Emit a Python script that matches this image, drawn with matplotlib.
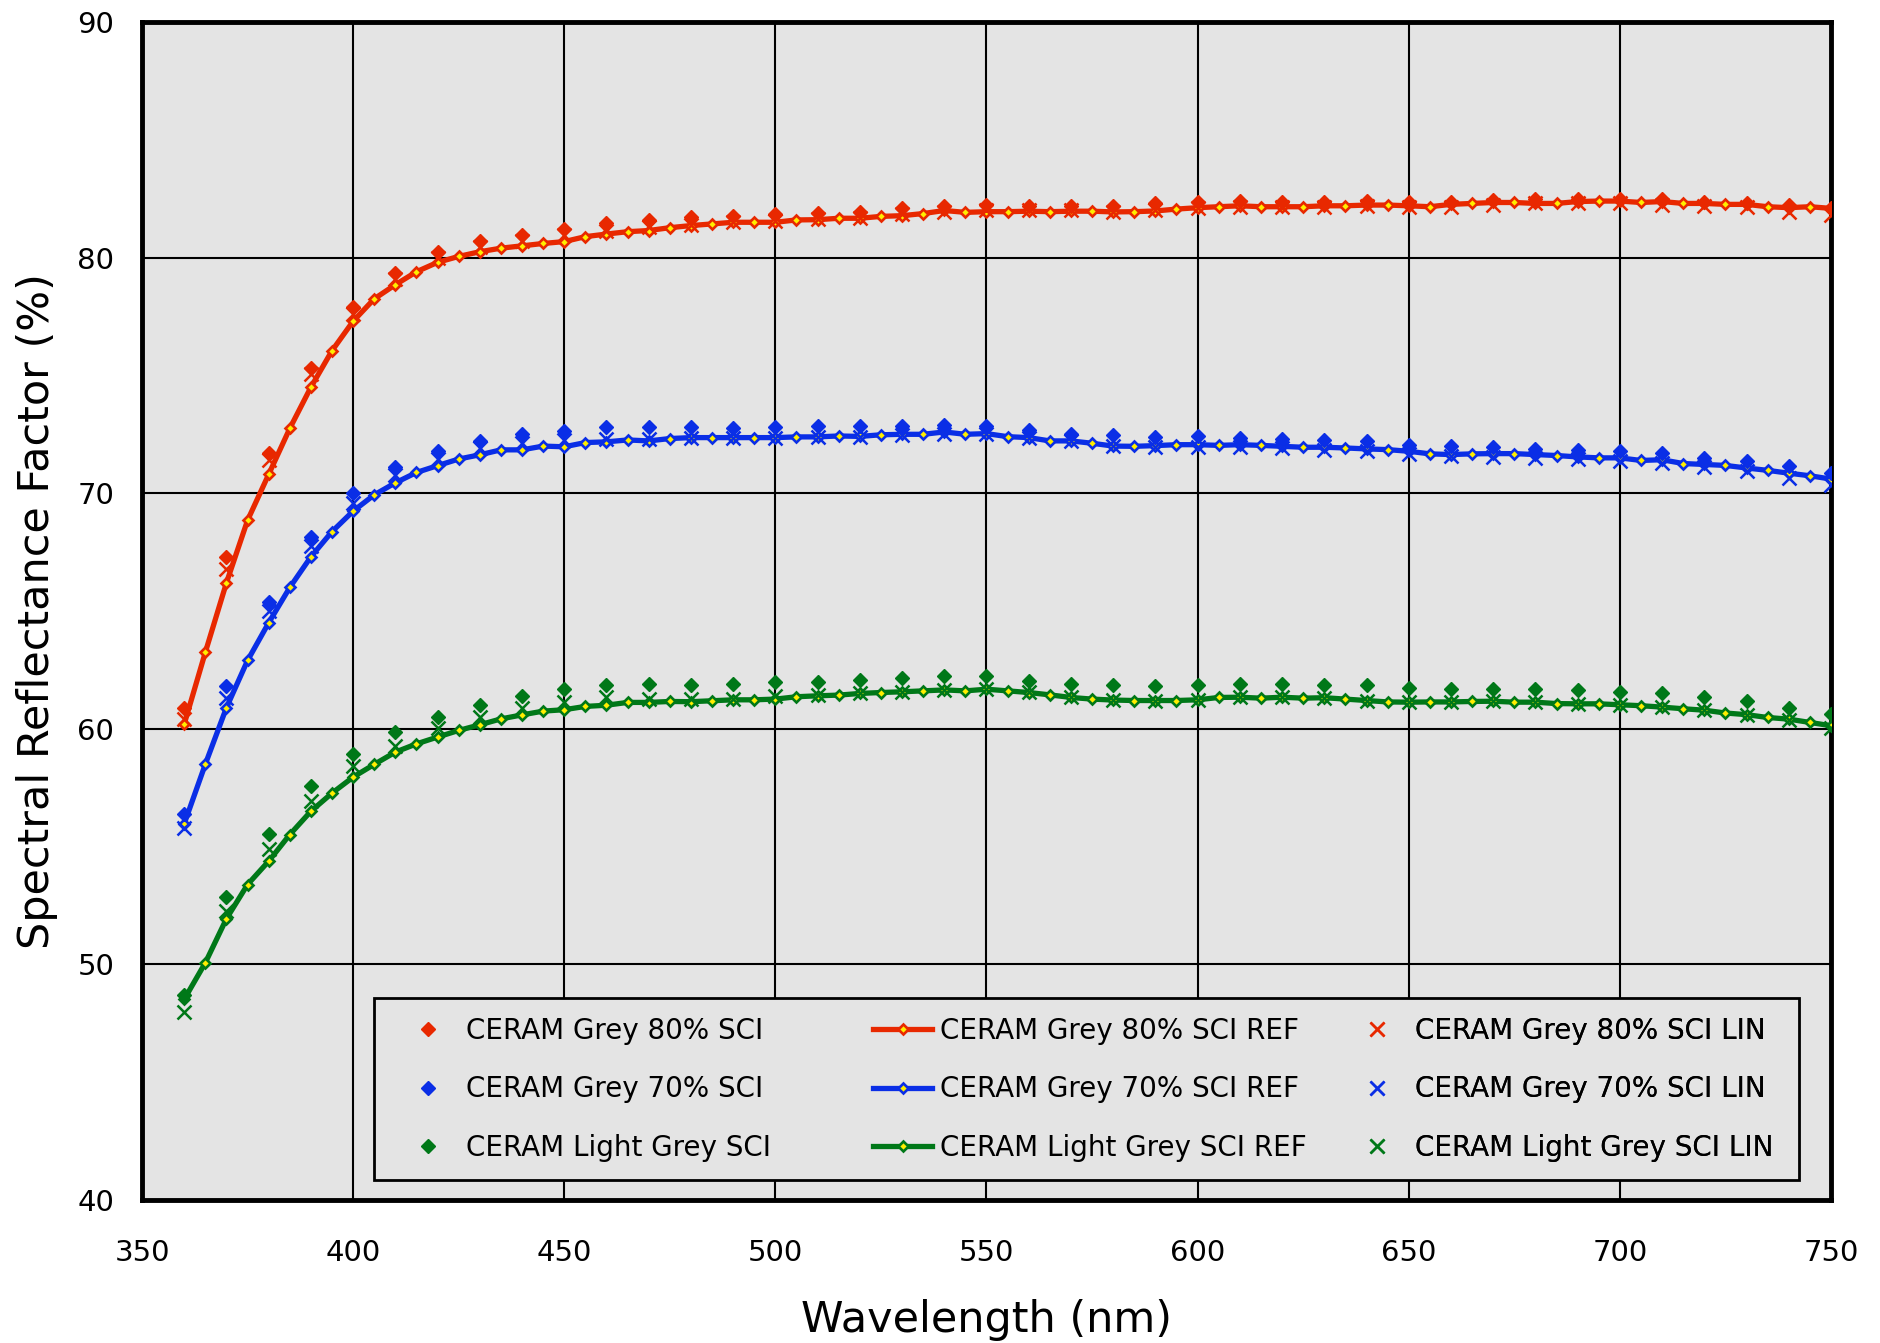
import numpy as np
import matplotlib
matplotlib.use("Agg")
import matplotlib.pyplot as plt
from matplotlib.patches import Rectangle

# wavelengths (nm)
wl_ref = list(range(360, 751, 5))
wl_pts = list(range(360, 751, 10))

# REF curves, 5 nm steps
ref_80 = [60.2, 63.25, 66.2, 68.85, 70.8, 72.75, 74.5, 76.05, 77.3, 78.25,
          78.85, 79.4, 79.8, 80.05, 80.25, 80.4, 80.5, 80.6, 80.68, 80.89,
          81.0, 81.1, 81.15, 81.27, 81.36, 81.43, 81.5, 81.5, 81.5, 81.6,
          81.61, 81.67, 81.67, 81.75, 81.78, 81.87, 82.0, 81.92, 81.95, 81.95,
          81.97, 81.95, 81.97, 81.97, 81.94, 81.95, 81.98, 82.06, 82.12, 82.16,
          82.2, 82.16, 82.16, 82.16, 82.2, 82.2, 82.23, 82.23, 82.2, 82.16,
          82.26, 82.3, 82.34, 82.34, 82.3, 82.3, 82.38, 82.4, 82.4, 82.34,
          82.38, 82.3, 82.3, 82.26, 82.26, 82.16, 82.12, 82.16, 82.09]
ref_70 = [55.97, 58.5, 60.9, 62.9, 64.5, 66.0, 67.3, 68.37, 69.24, 69.93,
          70.44, 70.88, 71.17, 71.45, 71.63, 71.84, 71.84, 72.0, 71.97, 72.15,
          72.18, 72.26, 72.22, 72.32, 72.36, 72.36, 72.36, 72.36, 72.36, 72.39,
          72.39, 72.43, 72.41, 72.48, 72.5, 72.5, 72.6, 72.5, 72.53, 72.4,
          72.36, 72.22, 72.22, 72.12, 72.0, 71.99, 72.02, 72.06, 72.06, 72.03,
          72.06, 72.03, 71.99, 71.95, 71.95, 71.92, 71.88, 71.85, 71.78, 71.67,
          71.64, 71.67, 71.68, 71.68, 71.64, 71.6, 71.54, 71.5, 71.5, 71.39,
          71.42, 71.26, 71.22, 71.18, 71.07, 70.97, 70.85, 70.74, 70.6]
ref_lg = [48.52, 50.07, 51.94, 53.39, 54.38, 55.51, 56.5, 57.27, 57.95, 58.49,
          59.01, 59.36, 59.65, 59.93, 60.17, 60.42, 60.59, 60.75, 60.81, 60.95,
          61.0, 61.12, 61.12, 61.16, 61.15, 61.19, 61.23, 61.23, 61.26, 61.36,
          61.4, 61.43, 61.5, 61.54, 61.57, 61.61, 61.65, 61.61, 61.68, 61.61,
          61.54, 61.44, 61.33, 61.26, 61.22, 61.2, 61.2, 61.2, 61.23, 61.33,
          61.34, 61.3, 61.34, 61.3, 61.32, 61.26, 61.2, 61.14, 61.13, 61.14,
          61.14, 61.16, 61.17, 61.13, 61.13, 61.07, 61.06, 61.06, 61.02, 60.98,
          60.92, 60.85, 60.79, 60.67, 60.6, 60.48, 60.41, 60.27, 60.13]

# SCI measurements, 10 nm steps
sci_80 = [60.9, 67.3, 71.7, 75.3, 77.9, 79.35, 80.25, 80.7, 80.95, 81.22,
          81.47, 81.6, 81.71, 81.75, 81.85, 81.9, 81.95, 82.09, 82.2, 82.23,
          82.2, 82.2, 82.18, 82.3, 82.35, 82.4, 82.38, 82.38, 82.4, 82.38,
          82.38, 82.45, 82.5, 82.5, 82.5, 82.48, 82.38, 82.33, 82.22, 82.1]
sci_70 = [56.4, 61.8, 65.4, 68.16, 70.0, 71.1, 71.8, 72.2, 72.5, 72.65,
          72.79, 72.8, 72.8, 72.76, 72.8, 72.86, 72.86, 72.86, 72.88, 72.86,
          72.67, 72.53, 72.46, 72.4, 72.42, 72.35, 72.3, 72.25, 72.2, 72.06,
          71.99, 71.95, 71.88, 71.85, 71.78, 71.7, 71.5, 71.35, 71.14, 70.85]
sci_lg = [48.7, 52.87, 55.54, 57.58, 58.93, 59.86, 60.52, 61.02, 61.4, 61.68,
          61.85, 61.9, 61.85, 61.9, 61.97, 62.0, 62.08, 62.14, 62.25, 62.22,
          62.04, 61.92, 61.85, 61.8, 61.84, 61.9, 61.9, 61.87, 61.84, 61.75,
          61.68, 61.68, 61.7, 61.65, 61.58, 61.51, 61.34, 61.16, 60.89, 60.64]

# SCI LIN, 10 nm steps
lin_80 = [60.4, 66.8, 71.4, 75.05, 77.6, 79.1, 80.0, 80.45, 80.7, 80.95,
          81.15, 81.3, 81.4, 81.5, 81.55, 81.65, 81.7, 81.85, 81.95, 82.0,
          82.0, 82.0, 81.95, 82.0, 82.1, 82.15, 82.15, 82.15, 82.2, 82.15,
          82.15, 82.25, 82.3, 82.3, 82.3, 82.25, 82.2, 82.15, 81.95, 81.8]
lin_70 = [55.8, 61.3, 65.0, 67.75, 69.6, 70.76, 71.45, 71.9, 72.15, 72.25,
          72.3, 72.3, 72.35, 72.35, 72.35, 72.38, 72.4, 72.45, 72.5, 72.5,
          72.35, 72.2, 72.0, 71.98, 71.98, 71.95, 71.9, 71.85, 71.8, 71.65,
          71.6, 71.55, 71.5, 71.45, 71.35, 71.3, 71.1, 70.95, 70.65, 70.35]
lin_lg = [47.98, 52.26, 54.9, 56.95, 58.4, 59.25, 60.03, 60.52, 60.88, 61.12,
          61.33, 61.26, 61.25, 61.25, 61.4, 61.42, 61.52, 61.58, 61.65, 61.68,
          61.55, 61.35, 61.22, 61.2, 61.24, 61.35, 61.34, 61.32, 61.2, 61.13,
          61.14, 61.17, 61.13, 61.06, 61.02, 60.92, 60.78, 60.6, 60.38, 60.05]

names = ["CERAM Grey 80%", "CERAM Grey 70%", "CERAM Light Grey"]
colors = ["#e82800", "#0a2ee6", "#007818"]
YELLOW = "#ffee00"
BG = "#e4e4e4"

fig = plt.figure(figsize=(18.81, 13.43), dpi=100)
ax = fig.add_axes([0.0755, 0.1065, 0.8979, 0.8771])
ax.set_facecolor(BG)

refs = [ref_80, ref_70, ref_lg]
scis = [sci_80, sci_70, sci_lg]
lins = [lin_80, lin_70, lin_lg]

h_sci, h_ref, h_lin = [], [], []
for name, c, r, s, l in zip(names, colors, refs, scis, lins):
    lr, = ax.plot(wl_ref, r, color=c, lw=3.8, marker="D", ms=5.5,
                  mfc=YELLOW, mec=c, mew=1.9, zorder=3, label=name + " SCI REF")
    ls, = ax.plot(wl_pts, s, ls="none", marker="D", ms=7, color=c,
                  mec=c, zorder=4, label=name + " SCI")
    ll, = ax.plot(wl_pts, l, ls="none", marker="x", ms=10, mew=1.8,
                  color=c, zorder=5, label=name + " SCI LIN")
    h_ref.append(lr)
    h_sci.append(ls)
    h_lin.append(ll)

ax.set_xlim(350, 750)
ax.set_ylim(40, 90)
ax.set_xticks(np.arange(350, 751, 50))
ax.set_yticks(np.arange(40, 91, 10))
ax.grid(True, color="black", lw=1.5, zorder=1)
ax.set_axisbelow(True)
for sp in ax.spines.values():
    sp.set_linewidth(3.5)
    sp.set_color("black")
ax.tick_params(axis="both", length=0, labelsize=21)
ax.tick_params(axis="x", pad=28)
ax.tick_params(axis="y", pad=20)

ax.set_xlabel("Wavelength (nm)", fontsize=31, labelpad=23)
ax.set_ylabel("Spectral Reflectance Factor (%)", fontsize=31, labelpad=13.5)

# legend: one frame, three equally spaced columns
ax.add_patch(Rectangle((0.1374, 0.017), 0.8436, 0.1545, transform=ax.transAxes,
                       facecolor=BG, edgecolor="black", lw=2, zorder=6))
for x0, hs in zip([0.1520, 0.4330, 0.7140], [h_sci, h_ref, h_lin]):
    lg = ax.legend(handles=hs, loc="center left", bbox_to_anchor=(x0, 0.0938),
                   frameon=False, borderpad=0, borderaxespad=0, fontsize=20,
                   numpoints=1, handlelength=2.12, handletextpad=0.29,
                   labelspacing=1.1)
    lg.set_zorder(7)
    ax.add_artist(lg)

fig.savefig("out.png", dpi=100)
